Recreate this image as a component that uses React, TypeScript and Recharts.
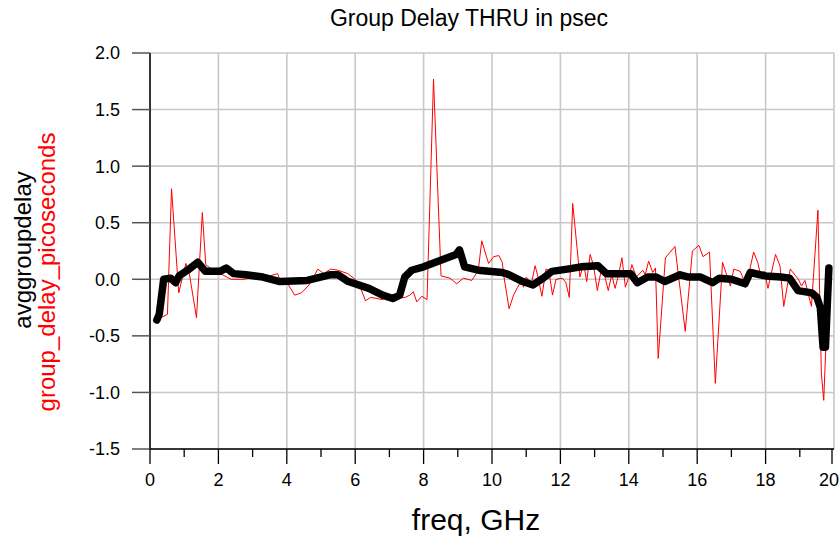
import React from 'react';
import { LineChart, Line, XAxis, YAxis, CartesianGrid } from 'recharts';

const redFreq = [
  0.19, 0.51, 0.63, 0.84, 1.05, 1.15, 1.36, 1.53, 1.63, 1.8,
  2.12, 2.37, 2.75, 3.2, 3.5, 3.73, 3.79, 4.05, 4.23, 4.43,
  4.65, 4.91, 5.08, 5.28, 5.5, 5.78, 6.0, 6.15, 6.3, 6.45,
  6.64, 6.8, 6.98, 7.15, 7.46, 7.6, 7.7, 7.8, 7.95, 8.1,
  8.29, 8.51, 8.77, 8.97, 9.16, 9.41, 9.6, 9.7, 9.9, 10.05,
  10.2, 10.3, 10.35, 10.5, 10.63, 10.75, 10.87, 10.92, 11.0, 11.15,
  11.26, 11.33, 11.46, 11.58, 11.66, 11.77, 11.87, 12.06, 12.16, 12.26,
  12.36, 12.57, 12.68, 12.77, 12.87, 12.97, 13.08, 13.18, 13.28, 13.4,
  13.5, 13.6, 13.7, 13.8, 13.9, 14.0, 14.09, 14.22, 14.41, 14.48,
  14.58, 14.7, 14.78, 14.86, 15.07, 15.35, 15.65, 15.86, 16.05, 16.17,
  16.36, 16.53, 16.74, 16.97, 17.07, 17.26, 17.43, 17.65, 17.77, 17.86,
  17.96, 18.07, 18.29, 18.42, 18.53, 18.72, 18.96, 19.05, 19.15, 19.34,
  19.53, 19.63, 19.7, 19.85,
];
const redDelay = [
  -0.36, -0.31, 0.8, -0.12, 0.14, 0.05, -0.34, 0.59, 0.13, 0.09,
  0.04, 0.0, 0.0, 0.03, 0.03, 0.05, 0.0, -0.05, -0.14, -0.12,
  -0.05, 0.09, 0.05, 0.09, 0.08, 0.05, 0.0, -0.07, -0.19, -0.16,
  -0.17, -0.18, -0.14, -0.17, -0.16, -0.14, -0.11, -0.2, -0.15, -0.18,
  1.77, 0.03, 0.01, -0.04, 0.01, -0.01, 0.08, 0.34, 0.14, 0.2,
  0.21, 0.15, 0.02, -0.26, -0.14, -0.07, -0.01, -0.07, 0.02, -0.04,
  0.12, 0.04, -0.15, 0.09, 0.08, -0.14, 0.0, 0.01, -0.03, -0.16,
  0.67, 0.02, 0.14, -0.02, 0.22, 0.12, -0.1, 0.06, 0.05, -0.1,
  0.04, -0.08, 0.04, 0.19, -0.07, 0.02, 0.13, 0.02, 0.08, 0.04,
  0.16, 0.06, 0.1, -0.7, 0.19, 0.29, -0.46, 0.25, 0.3, 0.2,
  0.24, -0.92, 0.15, -0.06, 0.09, 0.07, -0.06, 0.24, 0.15, 0.03,
  0.07, -0.08, 0.22, 0.12, -0.24, 0.09, 0.0, -0.06, -0.01, -0.24,
  0.61, -0.83, -1.07, 0.1,
];

const avgFreq = [
  0.2, 0.27, 0.4, 0.6, 0.75, 0.85, 1.1, 1.4, 1.62, 2.05,
  2.23, 2.45, 2.8, 3.3, 3.8, 4.6, 5.25, 5.5, 5.8, 6.4,
  6.8, 7.1, 7.3, 7.45, 7.65, 8.0, 8.6, 8.95, 9.05, 9.2,
  9.6, 10.3, 10.5, 10.9, 11.2, 11.5, 11.75, 12.2, 12.6, 13.1,
  13.35, 14.05, 14.25, 14.55, 14.8, 15.05, 15.5, 15.75, 16.1, 16.45,
  16.65, 17.0, 17.4, 17.55, 18.0, 18.45, 18.7, 18.95, 19.35, 19.5,
  19.6, 19.68, 19.75, 19.85,
];
const avgDelay = [
  -0.36, -0.31, 0.0, 0.01, -0.03, 0.03, 0.08, 0.15, 0.07, 0.07,
  0.1, 0.05, 0.04, 0.02, -0.02, -0.01, 0.04, 0.04, -0.02, -0.08,
  -0.14, -0.17, -0.14, 0.02, 0.08, 0.11, 0.18, 0.22, 0.26, 0.11,
  0.08, 0.06, 0.04, -0.02, -0.05, 0.01, 0.07, 0.09, 0.11, 0.12,
  0.05, 0.05, -0.03, 0.02, 0.02, -0.02, 0.04, 0.02, 0.02, -0.03,
  0.01, 0.0, -0.04, 0.06, 0.03, 0.02, 0.01, -0.1, -0.12, -0.16,
  -0.25, -0.6, -0.6, 0.1,
];

const xTicks = [0, 1, 2, 3, 4, 5, 6, 7, 8, 9, 10, 11, 12, 13, 14, 15, 16, 17, 18, 19, 20];
const xGridValues = [0, 2, 4, 6, 8, 10, 12, 14, 16, 18, 20];
const yTicks = [-1.5, -1.0, -0.5, 0.0, 0.5, 1.0, 1.5, 2.0];

const title = 'Group Delay THRU in psec';
const xLabel = 'freq, GHz';
const yLabelAvg = 'avggroupdelay';
const yLabelRed = 'group_delay_picoseconds';

const redData = redFreq.map((f, i) => ({ f, v: redDelay[i] }));
const avgData = avgFreq.map((f, i) => ({ f, v: avgDelay[i] }));

const FONT = '"Liberation Sans", Arial, Helvetica, sans-serif';

const XTick = (props: any) => {
  const { x, y, payload } = props;
  const major = payload.value % 2 === 0;
  const last = payload.value === 20;
  return (
    <g>
      <line x1={x} x2={x} y1={y} y2={y + (major ? 15 : 8)} stroke="#000" strokeWidth={1.3} />
      {major && (
        <text
          x={last ? 839 : x}
          y={y + 37}
          textAnchor={last ? 'end' : 'middle'}
          fontSize={18}
          fill="#000"
          fontFamily={FONT}
        >
          {payload.value}
        </text>
      )}
    </g>
  );
};

export default function App() {
  return (
    <div style={{ position: 'absolute', left: 0, top: 0, width: 840, height: 537, background: '#fff' }}>
      <LineChart
        width={840}
        height={537}
        margin={{ top: 53, right: 6, bottom: 48, left: 90 }}
      >
        <CartesianGrid
          stroke="#c8c8c8"
          strokeWidth={1.6}
          verticalValues={xGridValues}
          horizontalValues={yTicks}
        />
        <XAxis
          dataKey="f"
          type="number"
          domain={[0, 20]}
          ticks={xTicks}
          allowDataOverflow
          height={40}
          tickSize={0}
          tickMargin={0}
          tickLine={false}
          tick={<XTick />}
          axisLine={{ stroke: '#000', strokeWidth: 1.5 }}
        />
        <XAxis
          xAxisId="top"
          orientation="top"
          dataKey="f"
          type="number"
          domain={[0, 20]}
          height={0}
          tick={false}
          tickLine={false}
          axisLine={{ stroke: '#6e6e6e', strokeWidth: 2 }}
        />
        <YAxis
          type="number"
          domain={[-1.5, 2.0]}
          ticks={yTicks}
          allowDataOverflow
          width={60}
          tickSize={18}
          tickMargin={12}
          tickLine={{ stroke: '#555', strokeWidth: 1.5 }}
          axisLine={{ stroke: '#000', strokeWidth: 1.5 }}
          tickFormatter={(v: number) => v.toFixed(1)}
          tick={{ fontSize: 18, fill: '#000', fontFamily: FONT }}
        />
        <YAxis
          yAxisId="right"
          orientation="right"
          type="number"
          domain={[-1.5, 2.0]}
          width={0}
          tick={false}
          tickLine={false}
          axisLine={{ stroke: '#333', strokeWidth: 1.5 }}
        />
        <Line
          data={redData}
          dataKey="v"
          stroke="#ff0000"
          strokeWidth={1}
          dot={false}
          isAnimationActive={false}
        />
        <Line
          data={avgData}
          dataKey="v"
          stroke="#000"
          strokeWidth={7.5}
          strokeLinejoin="round"
          strokeLinecap="round"
          dot={false}
          isAnimationActive={false}
        />
      </LineChart>
      <svg
        width={840}
        height={537}
        style={{ position: 'absolute', left: 0, top: 0, pointerEvents: 'none' }}
      >
        <text x={469} y={26} textAnchor="middle" fontSize={23} fill="#000" fontFamily={FONT}>
          {title}
        </text>
        <text x={476} y={530} textAnchor="middle" fontSize={30} fill="#000" fontFamily={FONT}>
          {xLabel}
        </text>
        <text
          x={31}
          y={250}
          textAnchor="middle"
          fontSize={24}
          fill="#000"
          fontFamily={FONT}
          transform="rotate(-90 31 250)"
        >
          {yLabelAvg}
        </text>
        <text
          x={55}
          y={272}
          textAnchor="middle"
          fontSize={24}
          fill="#ff0000"
          fontFamily={FONT}
          transform="rotate(-90 55 272)"
        >
          {yLabelRed}
        </text>
      </svg>
    </div>
  );
}
